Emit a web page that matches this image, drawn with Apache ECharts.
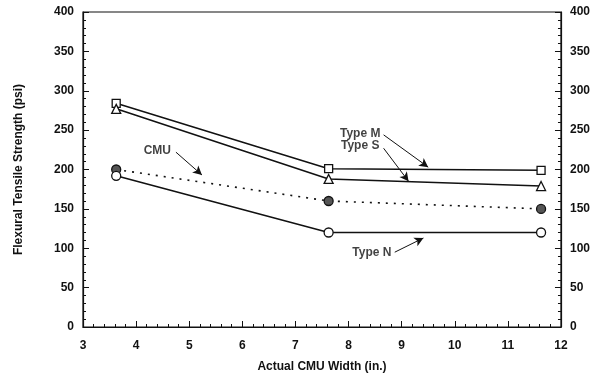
<!DOCTYPE html>
<html>
<head>
<meta charset="utf-8">
<script src="https://cdn.jsdelivr.net/npm/echarts@6/dist/echarts.min.js"></script>
<style>
  html, body { margin: 0; padding: 0; background: #fff; }
  #chart { width: 593px; height: 380px; }
</style>
</head>
<body>
<div id="chart"></div>
<script>
// 数据
const widths = [3.625, 7.625, 11.625]
const typeM = [284, 201, 199]
const typeS = [277, 188, 179]
const cmu = [200, 160, 150]
const typeN = [192, 120, 120]

// 注释文字位置与箭头 (数据坐标)
const noteLabels = ['CMU', 'Type M', 'Type S', 'Type N']
const noteText = [[4.40, 224], [8.22, 246], [8.22, 230], [8.44, 94]]
const noteArrowFrom = [[4.75, 222], [8.66, 244], [8.66, 227], [8.87, 95]]
const noteArrowTo = [[5.24, 193], [9.50, 203], [9.13, 185], [9.41, 113]]

const font = 'Liberation Sans, Arial, sans-serif'
const pair = (ys) => widths.map((x, i) => [x, ys[i]])

const yAxisBase = {
  type: 'value',
  min: 0,
  max: 400,
  interval: 50,
  axisLine: { show: true, lineStyle: { color: '#111', width: 1.2 } },
  axisTick: { show: true, inside: true, length: 6, lineStyle: { color: '#111' } },
  minorTick: { show: true, splitNumber: 5, length: 3, lineStyle: { color: '#111' } },
  splitLine: { show: false },
  axisLabel: { color: '#111', fontFamily: font, fontWeight: 'bold', fontSize: 12, margin: 9 }
}

function lineSeries(name, data, symbol, opts = {}) {
  return {
    name,
    type: 'line',
    data: pair(data),
    symbol,
    symbolSize: opts.size || 9,
    showAllSymbol: true,
    lineStyle: { color: '#111', width: 1.6, type: opts.dash || 'solid' },
    itemStyle: { color: opts.fill || '#fff', borderColor: '#111', borderWidth: 1.3 },
    z: 3
  }
}

const chart = echarts.init(document.getElementById('chart'), null, { renderer: 'canvas' })
chart.setOption({
  animation: false,
  backgroundColor: '#fff',
  grid: { left: 83, right: 25, top: 12, bottom: 53, show: true, borderColor: '#111', borderWidth: 1.2 },
  xAxis: {
    type: 'value',
    min: 3,
    max: 12,
    interval: 1,
    name: 'Actual CMU Width (in.)',
    nameLocation: 'middle',
    nameGap: 34,
    nameTextStyle: { color: '#111', fontFamily: font, fontWeight: 'bold', fontSize: 12 },
    axisLine: { show: true, lineStyle: { color: '#111', width: 1.2 } },
    axisTick: { show: true, inside: true, length: 6, lineStyle: { color: '#111' } },
    minorTick: { show: true, splitNumber: 5, length: 3, lineStyle: { color: '#111' } },
    splitLine: { show: false },
    axisLabel: { color: '#111', fontFamily: font, fontWeight: 'bold', fontSize: 12, margin: 13 }
  },
  yAxis: [
    {
      ...yAxisBase,
      position: 'left',
      name: 'Flexural Tensile Strength (psi)',
      nameLocation: 'middle',
      nameGap: 58,
      nameTextStyle: { color: '#111', fontFamily: font, fontWeight: 'bold', fontSize: 12 }
    },
    { ...yAxisBase, position: 'right' }
  ],
  series: [
    lineSeries('Type M', typeM, 'rect', { size: 8 }),
    lineSeries('Type S', typeS, 'triangle', { size: 9 }),
    lineSeries('CMU', cmu, 'circle', { dash: [2, 6], fill: '#555', size: 9 }),
    lineSeries('Type N', typeN, 'circle', { size: 9 }),
    {
      name: 'notes',
      type: 'scatter',
      data: noteText.map((p, i) => ({ value: p, label: { formatter: noteLabels[i] } })),
      symbolSize: 0,
      label: {
        show: true,
        position: 'inside',
        color: '#111',
        fontFamily: font,
        fontWeight: 'bold',
        fontSize: 12
      },
      markLine: {
        silent: true,
        symbol: ['none', 'arrow'],
        symbolSize: [7, 9],
        label: { show: false },
        lineStyle: { color: '#111', width: 1, type: 'solid' },
        data: noteArrowFrom.map((p, i) => [{ coord: p }, { coord: noteArrowTo[i] }])
      },
      z: 4
    }
  ]
})
</script>
</body>
</html>
